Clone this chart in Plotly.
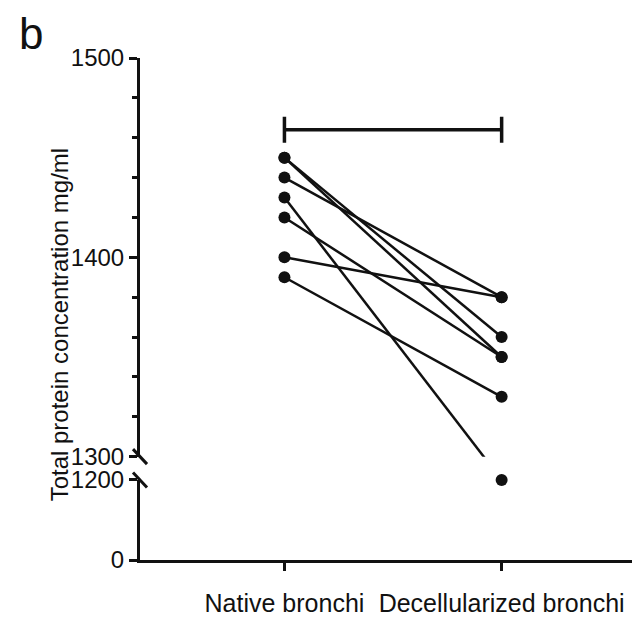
import plotly.graph_objects as go

# ---------------- data ----------------
categories = ["Native bronchi", "Decellularized bronchi"]
native = [1450, 1450, 1440, 1430, 1420, 1400, 1390]
decellularized = [1360, 1350, 1380, 1200, 1350, 1380, 1330]
upper_ticks = [1300, 1400, 1500]
lower_ticks = [0, 1200]
bracket_y = 1464
bracket_cap = [1457.5, 1470.5]
y_title = "Total protein concentration mg/ml"
panel_label = "b"

# ---------------- axis configuration ----------------
UP_RANGE = [1300, 1500]
LOW_RANGE = [0, 1200]
UP_DOM = [0.2059, 1.0]
LOW_DOM = [0.0, 0.1595]
X_RANGE = [-0.665, 1.637]
FONT = "Liberation Sans, Arial, sans-serif"
INK = "#111111"
PAGE_OFFSET = 8  # default body margin of the html page
PLOT_W = 500
PLOT_H = 506


def to_upper(v):
    """Express a value of the lower (broken) segment in upper-axis units,
    so that a connecting line reaches the point's screen position."""
    if v >= UP_RANGE[0]:
        return v
    paper = LOW_DOM[0] + (v - LOW_RANGE[0]) / (LOW_RANGE[1] - LOW_RANGE[0]) * (LOW_DOM[1] - LOW_DOM[0])
    return UP_RANGE[0] + (paper - UP_DOM[0]) / (UP_DOM[1] - UP_DOM[0]) * (UP_RANGE[1] - UP_RANGE[0])


fig = go.Figure()

# connecting lines (one segment per pair)
lx, ly = [], []
for a, b in zip(native, decellularized):
    lx += [0, 1, None]
    ly += [a, to_upper(b), None]
fig.add_trace(go.Scatter(x=lx, y=ly, mode="lines", xaxis="x", yaxis="y",
                         line=dict(color=INK, width=2.5), hoverinfo="skip", showlegend=False))

# markers
fig.add_trace(go.Scatter(x=[0] * len(native), y=native, mode="markers", xaxis="x", yaxis="y",
                         marker=dict(color=INK, size=12), showlegend=False, cliponaxis=False))
dec_up = [v for v in decellularized if v >= UP_RANGE[0]]
dec_low = [v for v in decellularized if v < UP_RANGE[0]]
fig.add_trace(go.Scatter(x=[1] * len(dec_up), y=dec_up, mode="markers", xaxis="x", yaxis="y",
                         marker=dict(color=INK, size=12), showlegend=False, cliponaxis=False))
fig.add_trace(go.Scatter(x=[1] * len(dec_low), y=dec_low, mode="markers", xaxis="x", yaxis="y2",
                         marker=dict(color=INK, size=12), showlegend=False, cliponaxis=False))

shapes = []
# significance bracket
shapes.append(dict(type="line", xref="x", yref="y", x0=0, x1=1, y0=bracket_y, y1=bracket_y,
                   line=dict(color=INK, width=3.5)))
for xc in (0, 1):
    shapes.append(dict(type="line", xref="x", yref="y", x0=xc, x1=xc,
                       y0=bracket_cap[0], y1=bracket_cap[1], line=dict(color=INK, width=3.5)))
# axis-break slashes
for yanchor in (UP_DOM[0], LOW_DOM[1]):
    shapes.append(dict(type="line", xref="paper", yref="paper",
                       xsizemode="pixel", xanchor=0, x0=-7, x1=7,
                       ysizemode="pixel", yanchor=yanchor, y0=7.5, y1=-7.5,
                       line=dict(color=INK, width=3)))

axis_common = dict(showgrid=False, zeroline=False, showline=True, linecolor=INK, linewidth=3,
                   ticks="outside", ticklen=8, tickwidth=2.5, tickcolor=INK,
                   tickfont=dict(family=FONT, size=24, color=INK))

left = 140 - PAGE_OFFSET
top = 58 - PAGE_OFFSET
x_axis = dict(axis_common)
x_axis["tickfont"] = dict(family=FONT, size=25, color=INK)
fig.update_layout(
    width=640 - PAGE_OFFSET, height=617 - PAGE_OFFSET, autosize=False,
    margin=dict(l=left, r=0, t=top, b=617 - PAGE_OFFSET - top - PLOT_H),
    paper_bgcolor="white", plot_bgcolor="white",
    showlegend=False,
    xaxis=dict(range=X_RANGE, tickvals=[0, 1], ticktext=categories, anchor="y2",
               ticklabelstandoff=11, **x_axis),
    yaxis=dict(domain=UP_DOM, range=UP_RANGE, tickvals=upper_ticks, anchor="x",
               minor=dict(ticks="outside", ticklen=5, tickwidth=2.5, tickcolor=INK,
                          dtick=20, tick0=1300, showgrid=False),
               **axis_common),
    yaxis2=dict(domain=LOW_DOM, range=LOW_RANGE, tickvals=lower_ticks, anchor="x",
                **axis_common),
    shapes=shapes,
    annotations=[
        dict(text=y_title, textangle=-90, xref="paper", yref="paper",
             x=(59 - 140) / PLOT_W, y=0.4694, xanchor="center", yanchor="middle",
             showarrow=False, font=dict(family=FONT, size=24, color=INK)),
        dict(text=panel_label, xref="paper", yref="paper", borderpad=0,
             x=(18 - 140) / PLOT_W, y=1 + top / PLOT_H, xanchor="left", yanchor="top",
             showarrow=False, font=dict(family=FONT, size=44, color=INK)),
    ],
)

fig.write_html("out.html")
